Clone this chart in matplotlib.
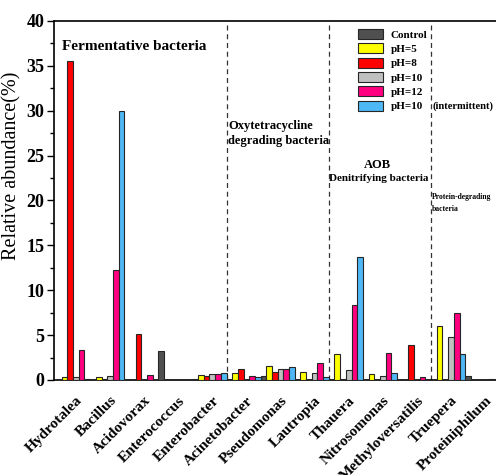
import matplotlib
matplotlib.use('Agg')
import matplotlib.pyplot as plt
import matplotlib.transforms as mtransforms
from matplotlib.ticker import MultipleLocator
import numpy as np

plt.rcParams['font.family'] = 'Liberation Serif'

genera = ['Hydrotalea', 'Bacillus', 'Acidovorax', 'Enterococcus', 'Enterobacter',
          'Acinetobacter', 'Pseudomonas', 'Lautropia', 'Thauera', 'Nitrosomonas',
          'Methyloversatilis', 'Truepera', 'Proteiniphilum']

# relative abundance (%) per treatment
control  = [0.05, 0.05, 0.0, 3.2, 0.15, 0.0, 0.45, 0.0, 0.0, 0.0, 0.0, 0.0, 0.5]
ph5      = [0.3, 0.3, 0.0, 0.0, 0.55, 0.75, 1.55, 0.85, 2.85, 0.65, 0.0, 6.0, 0.0]
ph8      = [35.5, 0.1, 5.1, 0.0, 0.5, 1.2, 0.9, 0.0, 0.1, 0.0, 3.9, 0.0, 0.0]
ph10     = [0.3, 0.5, 0.0, 0.0, 0.65, 0.05, 1.2, 0.8, 1.1, 0.5, 0.0, 4.75, 0.0]
ph12     = [3.3, 12.2, 0.6, 0.0, 0.7, 0.5, 1.2, 1.85, 8.3, 3.0, 0.35, 7.45, 0.1]
ph10_int = [0.1, 30.0, 0.0, 0.05, 0.8, 0.35, 1.5, 0.3, 13.7, 0.8, 0.0, 2.9, 0.0]

series = [control, ph5, ph8, ph10, ph12, ph10_int]
labels = ['Control', 'pH=5', 'pH=8', 'pH=10', 'pH=12', 'pH=10']
colors = ['#505050', '#FFFF00', '#FF0000', '#C0C0C0', '#FF0080', '#4DB8F5']

fig = plt.figure(figsize=(4.96, 4.75), dpi=100)
ax = fig.add_axes([0.108, 0.2, 0.9, 0.756])

n = len(series)
w = 1.0 / n
x = np.arange(len(genera))
for k, (vals, lab, col) in enumerate(zip(series, labels, colors)):
    ax.bar(x - 0.5 + (k + 0.5) * w, vals, width=w, color=col, edgecolor='#262626',
           linewidth=0.8, label=lab, zorder=3)

# group separators
for xs in [4.5, 7.5, 10.5]:
    ax.axvline(xs, color='#333333', lw=0.9, ls=(0, (4, 3)), zorder=2)

ax.set_xlim(-0.573, 12.52)
ax.set_ylim(0, 40)
ax.yaxis.set_major_locator(MultipleLocator(5))
ax.yaxis.set_minor_locator(MultipleLocator(2.5))
ax.tick_params(axis='y', which='major', direction='out', length=5, width=1,
               labelsize=13, pad=1.5)
ax.tick_params(axis='y', which='minor', direction='out', length=3, width=1)
ax.tick_params(axis='x', length=0, pad=10)
for lbl in ax.get_yticklabels():
    lbl.set_fontweight('bold')

ax.set_xticks(x)
ax.set_xticklabels(genera, rotation=45, ha='right', fontsize=11, fontweight='bold')
shift = mtransforms.ScaledTranslation(12 / 100, 0, fig.dpi_scale_trans)
for lbl in ax.get_xticklabels():
    lbl.set_transform(lbl.get_transform() + shift)

ax.set_ylabel('Relative abundance(%)', fontsize=14.5)
ax.yaxis.set_label_coords(-0.072, 0.596)

for s in ['left', 'bottom', 'top']:
    ax.spines[s].set_linewidth(1.2)
ax.spines['right'].set_visible(False)

# group annotations
ax.text(-0.32, 37.2, 'Fermentative bacteria', fontsize=11, fontweight='bold', va='center')
ax.text(4.54, 27.5, 'Oxytetracycline\ndegrading bacteria', fontsize=9, fontweight='bold',
        va='center', linespacing=1.35)
ax.text(8.94, 24.0, 'AOB', fontsize=9, fontweight='bold', ha='center', va='center')
ax.text(8.97, 22.5, 'Denitrifying bacteria', fontsize=8, fontweight='bold', ha='center', va='center')
ax.text(10.53, 19.7, 'Protein-degrading\nbacteria', fontsize=5.5, fontweight='bold', va='center',
        linespacing=1.6)
ax.text(10.54, 30.5, '(intermittent)', fontsize=7.6, fontweight='bold', va='center')

leg = ax.legend(loc='upper left', bbox_to_anchor=(358 / 496, 1 - 29 / 475),
                bbox_transform=fig.transFigure, frameon=False, borderpad=0,
                borderaxespad=0, handlelength=2.25, handleheight=1.0,
                handletextpad=0.7, labelspacing=0.32,
                prop={'size': 8, 'weight': 'bold'})

fig.savefig('out.png', dpi=100)
